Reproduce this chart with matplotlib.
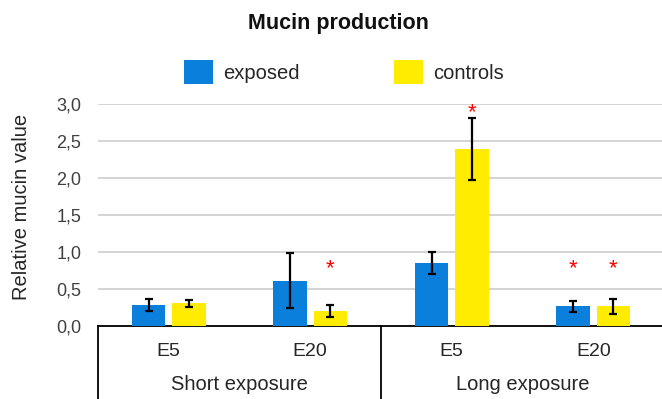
import matplotlib
matplotlib.use("Agg")
import matplotlib.pyplot as plt
import matplotlib.transforms as mtransforms
import numpy as np

plt.rcParams['font.family'] = ['Liberation Sans', 'DejaVu Sans']

categories = ["E5", "E20", "E5", "E20"]
groups = ["Short exposure", "Long exposure"]
series_names = ["exposed", "controls"]
exposed = [0.28, 0.61, 0.85, 0.265]
exposed_err = [0.08, 0.37, 0.15, 0.07]
controls = [0.305, 0.20, 2.39, 0.265]
controls_err = [0.045, 0.08, 0.42, 0.10]
exposed_star = [None, None, None, 0.77]
controls_star = [None, 0.78, 2.88, 0.77]
yticks = [0.0, 0.5, 1.0, 1.5, 2.0, 2.5, 3.0]
ytick_labels = ["0,0", "0,5", "1,0", "1,5", "2,0", "2,5", "3,0"]

W, H = 662, 399
fig = plt.figure(figsize=(W / 100, H / 100), dpi=100)
ax_left, ax_right = 98 / W, 664 / W
ax_top, ax_bot = 1 - 104 / H, 1 - 326 / H
ax = fig.add_axes([ax_left, ax_bot, ax_right - ax_left, ax_top - ax_bot])

blue = "#0a7fdc"
yellow = "#ffec00"
text_col = "#262626"
x = np.arange(len(categories))
bw = 0.235
off = 0.143
ax.bar(x - off, exposed, bw, color=blue, zorder=3, label=series_names[0])
ax.bar(x + off, controls, bw, color=yellow, zorder=3, label=series_names[1])
ekw = dict(fmt="none", ecolor="black", elinewidth=1.6, capsize=3, capthick=1.6, zorder=4)
ax.errorbar(x - off, exposed, yerr=exposed_err, **ekw)
ax.errorbar(x + off, controls, yerr=controls_err, **ekw)

for i, s in enumerate(exposed_star):
    if s is not None:
        ax.text(x[i] - off, s, "*", color="red", ha="center", va="center", fontsize=16, zorder=5)
for i, s in enumerate(controls_star):
    if s is not None:
        ax.text(x[i] + off, s, "*", color="red", ha="center", va="center", fontsize=16, zorder=5)

ax.set_xlim(-0.5, len(categories) - 0.5)
ax.set_ylim(0, 3.0)
ax.set_yticks(yticks)
ax.set_yticklabels(ytick_labels, fontsize=13, color="#404040")
ax.tick_params(axis="y", length=0, pad=12)
ax.yaxis.grid(True, color="#d4d4d4", linewidth=1.4, zorder=0)
ax.set_axisbelow(True)
for sp in ["left", "right", "top"]:
    ax.spines[sp].set_visible(False)
ax.spines["bottom"].set_color("black")
ax.spines["bottom"].set_linewidth(1.3)

ax.set_xticks(x)
ax.set_xticklabels(categories, fontsize=14, color=text_col)
ax.tick_params(axis="x", length=0, pad=12)

trans = mtransforms.blended_transform_factory(ax.transData, ax.transAxes)
px = 1 / 222
bottom_y = -75 * px
for xv in [-0.5, 1.5, 3.5]:
    ax.plot([xv, xv], [0, bottom_y], transform=trans, color="black", lw=1.3, clip_on=False)
for gi, g in enumerate(groups):
    ax.text(gi * 2 + 0.5, -58 * px, g, transform=trans, ha="center", va="center",
            fontsize=14.5, color=text_col)

fig.text(22 / W, 1 - 207 / H, "Relative mucin value", rotation=90, ha="center", va="center",
         fontsize=14.5, color=text_col)

fig.text(338 / W, 1 - 23 / H, "Mucin production", ha="center", va="center",
         fontsize=15.5, fontweight="bold", color="#111111")

leg = ax.legend(loc="center", bbox_to_anchor=(344 / W, 1 - 72 / H), bbox_transform=fig.transFigure,
                ncol=2, frameon=False, fontsize=14.5, handlelength=1.45, handleheight=1.45,
                columnspacing=4.7, handletextpad=0.5, labelcolor=text_col)

fig.savefig("out.png", dpi=100)
